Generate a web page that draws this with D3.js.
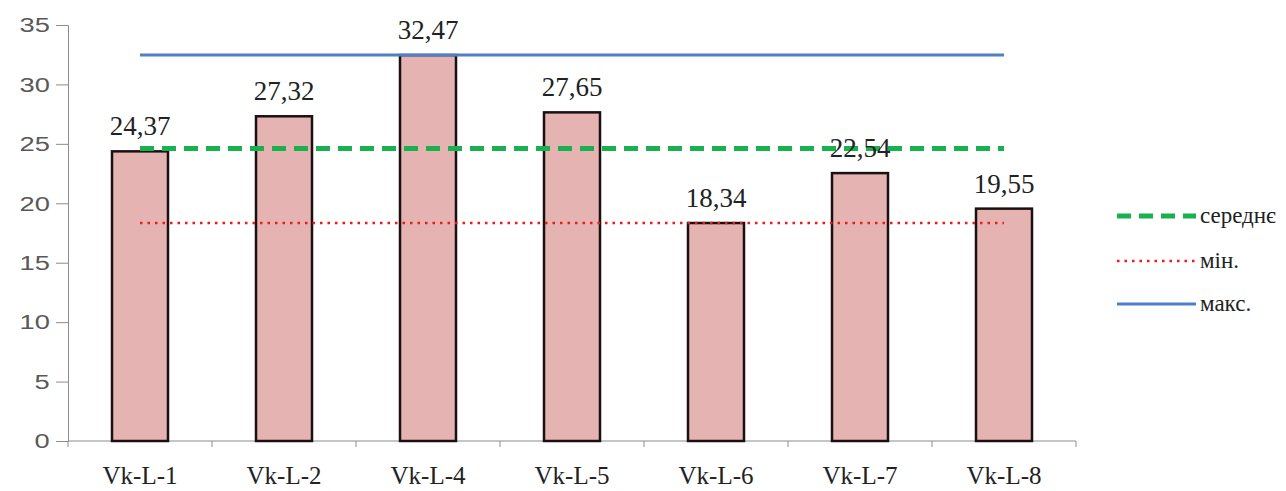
<html>
  <script src='https://d3js.org/d3.v7.min.js'></script>
  <head>
    <title>Vk-L</title>
    <style>
      body { margin: 0; background: white; }
    </style>
  </head>
  <body>
    <svg></svg>
    <script>
      const categories = ["Vk-L-1", "Vk-L-2", "Vk-L-4", "Vk-L-5", "Vk-L-6", "Vk-L-7", "Vk-L-8"];
      const values = [24.37, 27.32, 32.47, 27.65, 18.34, 22.54, 19.55];
      const yTicks = [0, 5, 10, 15, 20, 25, 30, 35];
      const legendNames = ["середнє", "мін.", "макс."];

      const meanVal = d3.mean(values);
      const minVal = d3.min(values);
      const maxVal = d3.max(values);

      const serif = "Liberation Serif";
      const svg = d3.select("svg").attr("width", 1286).attr("height", 491);

      const plotLeft = 68, plotRight = 1076, plotTop = 25, plotBottom = 441;

      var xb = d3.scaleBand().domain(categories).range([plotLeft, plotRight]);
      var y = d3.scaleLinear().domain([0, 35]).range([plotBottom, plotTop]);

      // y axis (labels a bit wide, like the stretched original)
      var yAxis = svg.append("g")
        .attr("transform", "translate(" + plotLeft + ",0)")
        .call(d3.axisLeft(y).tickValues(yTicks).tickSize(12));
      yAxis.selectAll("line, path").attr("stroke", "#8c8c8c");
      yAxis.selectAll("text")
        .attr("x", -14)
        .attr("transform", "scale(1.3,1)")
        .attr("font-family", "Liberation Sans")
        .attr("font-size", 21)
        .attr("fill", "#595959");

      // x axis baseline and ticks at band edges
      svg.append("path")
        .attr("d", d3.line()([[plotLeft, y(0)], [plotRight, y(0)]]))
        .attr("stroke", "#8c8c8c");
      svg.selectAll(".xtick")
        .data(categories.concat(["end"]))
        .enter().append("line")
        .attr("x1", function(d, i) { return plotLeft + i * xb.bandwidth(); })
        .attr("x2", function(d, i) { return plotLeft + i * xb.bandwidth(); })
        .attr("y1", y(0))
        .attr("y2", y(0) + 6)
        .attr("stroke", "#8c8c8c");

      // bars
      svg.selectAll(".bar")
        .data(values)
        .enter().append("rect")
        .attr("x", function(d, i) { return xb(categories[i]) + xb.bandwidth() / 2 - 28; })
        .attr("y", function(d) { return y(d); })
        .attr("width", 56)
        .attr("height", function(d) { return y(0) - y(d); })
        .attr("fill", "#e6b3b3")
        .attr("stroke", "#1a1010")
        .attr("stroke-width", 2.5);

      // category labels
      svg.selectAll(".cat")
        .data(categories)
        .enter().append("text")
        .text(function(d) { return d; })
        .attr("x", function(d) { return xb(d) + xb.bandwidth() / 2; })
        .attr("y", 484)
        .attr("text-anchor", "middle")
        .attr("font-family", serif)
        .attr("font-size", 25)
        .attr("fill", "#222");

      // reference lines
      var x0 = xb(categories[0]) + xb.bandwidth() / 2;
      var x1 = xb(categories[categories.length - 1]) + xb.bandwidth() / 2;

      svg.append("path")
        .attr("d", d3.line()([[x0, y(maxVal)], [x1, y(maxVal)]]))
        .attr("stroke", "#4f7fc4")
        .attr("stroke-width", 3);

      svg.append("path")
        .attr("d", d3.line()([[x0, y(meanVal)], [x1, y(meanVal)]]))
        .attr("stroke", "#19b050")
        .attr("stroke-width", 5)
        .attr("stroke-dasharray", "14,8");

      svg.append("path")
        .attr("d", d3.line()([[x0, y(minVal)], [x1, y(minVal)]]))
        .attr("stroke", "#f01818")
        .attr("stroke-width", 2.5)
        .attr("stroke-dasharray", "2.5,5");

      // value labels
      svg.selectAll(".val")
        .data(values)
        .enter().append("text")
        .text(function(d) { return d.toFixed(2).replace(".", ","); })
        .attr("x", function(d, i) { return xb(categories[i]) + xb.bandwidth() / 2; })
        .attr("y", function(d) { return y(d) - 16; })
        .attr("text-anchor", "middle")
        .attr("font-family", serif)
        .attr("font-size", 27)
        .attr("fill", "#222");

      // legend
      var legY = [216, 261, 304];
      var legStyles = [
        { stroke: "#19b050", w: 5, dash: "14,8" },
        { stroke: "#f01818", w: 2.5, dash: "2.5,5" },
        { stroke: "#4f7fc4", w: 3, dash: null }
      ];
      legendNames.forEach(function(name, i) {
        svg.append("path")
          .attr("d", d3.line()([[1117, legY[i]], [1196, legY[i]]]))
          .attr("stroke", legStyles[i].stroke)
          .attr("stroke-width", legStyles[i].w)
          .attr("stroke-dasharray", legStyles[i].dash);
        svg.append("text")
          .text(name)
          .attr("x", 1200)
          .attr("y", legY[i] + 7)
          .attr("font-family", serif)
          .attr("font-size", 23)
          .attr("fill", "#222");
      });
    </script>
  </body>
</html>
